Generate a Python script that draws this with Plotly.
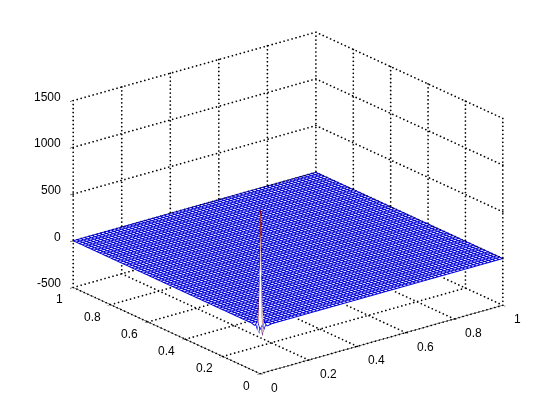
import numpy as np
import plotly.graph_objects as go

x_ticks = [0, 0.2, 0.4, 0.6, 0.8, 1]
y_ticks = [0, 0.2, 0.4, 0.6, 0.8, 1]
z_ticks = [-500, 0, 500, 1000, 1500]

# finer steps by the spike so it stays as narrow as in the picture
corner_grid = [0, 1 / 128, 2 / 128, 3 / 128, 4 / 128]
grid_x = np.concatenate([corner_grid, np.arange(3, 65) / 64])
grid_y = np.concatenate([corner_grid, np.arange(3, 65) / 64])

corner_z = [
    [-30, 20, -40, 10, -10],
    [30, 1240, -110, 40, -20],
    [-40, -90, 50, -60, 10],
    [10, 40, -60, 20, -10],
    [-10, -20, 10, -10, 0],
]

# matlab's jet, the plotly one has different blues
jet_colors = [
    [0, "rgb(0,0,143)"],
    [0.125, "rgb(0,0,255)"],
    [0.375, "rgb(0,255,255)"],
    [0.625, "rgb(255,255,0)"],
    [0.875, "rgb(255,0,0)"],
    [1, "rgb(128,0,0)"],
]

z = np.zeros((len(grid_y), len(grid_x)))
z[: len(corner_z), : len(corner_z[0])] = corner_z


def mesh_lines(xs, ys, zs, in_corner):
    seg_x, seg_y, seg_z, seg_c = [], [], [], []
    n_row, n_col = zs.shape
    for i in range(n_row):
        for j in range(n_col):
            for i2, j2 in ((i + 1, j), (i, j + 1)):
                if i2 < n_row and j2 < n_col:
                    if (i < 4 and j < 4) != in_corner:
                        continue
                    # the extra fine lines only run inside the corner patch
                    if i2 == i and i in (1, 3) and j >= 4:
                        continue
                    if j2 == j and j in (1, 3) and i >= 4:
                        continue
                    # flat colour per edge, taken from its higher end so the spike stays red
                    c = max(zs[i, j], zs[i2, j2])
                    seg_x += [xs[j], xs[j2], None]
                    seg_y += [ys[i], ys[i2], None]
                    seg_z += [zs[i, j], zs[i2, j2], None]
                    seg_c += [c, c, c]
    return seg_x, seg_y, seg_z, seg_c


def dots(start, end, n):
    return [np.linspace(start[k], end[k], n) for k in range(3)]


def grid_dots():
    # dotted grid on the floor and the two back walls
    edges = []
    for t in x_ticks:
        edges.append(((t, 0, -500), (t, 1, -500), 52))
        edges.append(((t, 1, -500), (t, 1, 1500), 48))
    for t in y_ticks:
        edges.append(((0, t, -500), (1, t, -500), 62))
        edges.append(((1, t, -500), (1, t, 1500), 48))
    for t in z_ticks:
        edges.append(((0, 1, t), (1, 1, t), 62))
        edges.append(((1, 0, t), (1, 1, t), 52))
    parts = [dots(a, b, n) for a, b, n in edges]
    return [np.concatenate([p[k] for p in parts]) for k in range(3)]


fig = go.Figure()

gx, gy, gz = grid_dots()
fig.add_trace(
    go.Scatter3d(
        x=gx,
        y=gy,
        z=gz,
        mode="markers",
        marker=dict(color="black", size=1, line=dict(width=0)),
        hoverinfo="none",
    )
)

# white sheet just under the mesh so it hides the floor grid behind it
fig.add_trace(
    go.Surface(
        x=grid_x,
        y=grid_y,
        z=z - 15,
        colorscale=[[0, "white"], [1, "white"]],
        showscale=False,
        hoverinfo="none",
        lighting=dict(ambient=1, diffuse=0, specular=0, roughness=1, fresnel=0),
    )
)

for in_corner, width in ((False, 2), (True, 1.5)):
    mx, my, mz, mc = mesh_lines(grid_x, grid_y, z, in_corner)
    fig.add_trace(
        go.Scatter3d(
            x=mx,
            y=my,
            z=mz,
            mode="lines",
            line=dict(color=mc, colorscale=jet_colors, cmin=-110, cmax=1240, width=width),
            hoverinfo="none",
        )
    )

axis_font = dict(family="Liberation Sans", size=12, color="black")
axis_style = dict(
    showgrid=False,
    zeroline=False,
    showbackground=False,
    showline=True,
    linecolor="black",
    linewidth=1,
    ticks="outside",
    ticklen=4,
    tickcolor="black",
    showticklabels=False,
    title="",
    showspikes=False,
)

# tick labels as annotations, the native ones sit too close and collide at the left corner
labels = []
for t in x_ticks:
    labels.append(dict(x=t, y=0, z=-500, text=str(t), xanchor="left", xshift=9, yshift=-14))
for t in y_ticks:
    labels.append(dict(x=0, y=t, z=-500, text=str(t), xanchor="right", xshift=-8, yshift=-12))
for t in z_ticks:
    labels.append(dict(x=0, y=1, z=t, text=str(t), xanchor="right", xshift=-10, yshift=4))
for a in labels:
    a.update(showarrow=False, yanchor="middle", font=axis_font)

fig.update_layout(
    width=560,
    height=420,
    showlegend=False,
    paper_bgcolor="white",
    margin=dict(l=0, r=0, t=0, b=0),
    scene=dict(
        xaxis=dict(range=[0, 1], tickvals=x_ticks, **axis_style),
        yaxis=dict(range=[0, 1], tickvals=y_ticks, **axis_style),
        zaxis=dict(range=[-500, 1500], tickvals=z_ticks, **{**axis_style, "showline": False}),
        aspectmode="manual",
        aspectratio=dict(x=1.467, y=1.445, z=0.954),
        camera=dict(
            projection=dict(type="orthographic"),
            eye=dict(x=-0.86, y=-1.1, z=0.463),
            up=dict(x=0, y=0, z=1),
            center=dict(x=0, y=0, z=-0.077),
        ),
        annotations=labels,
    ),
)

fig.write_html("out.html")
